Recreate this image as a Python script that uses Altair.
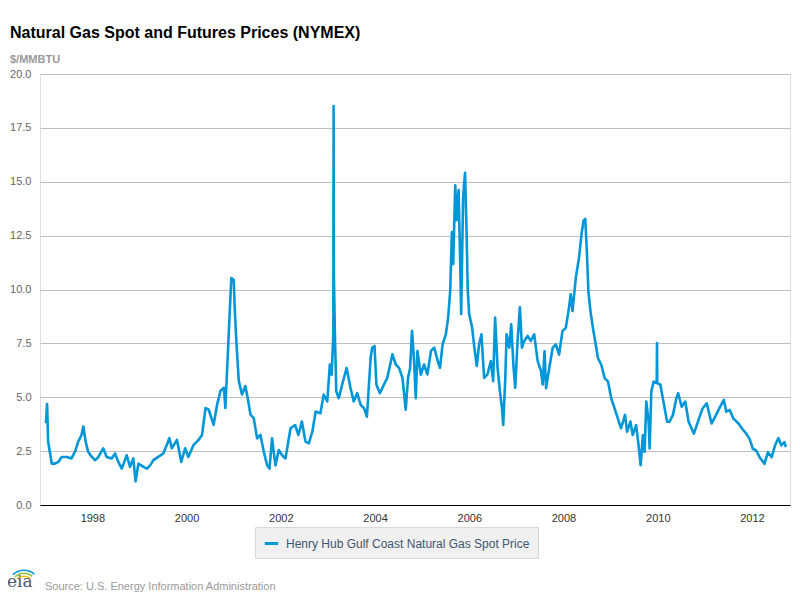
import altair as alt
import pandas as pd

# ---------------- data ----------------
dates = [
    "1997-01-06", "1997-01-15", "1997-01-23", "1997-02-05", "1997-02-20", "1997-03-17", "1997-04-12",
    "1997-05-08", "1997-06-17", "1997-07-23", "1997-08-19", "1997-09-13", "1997-10-09", "1997-10-23",
    "1997-11-10", "1997-11-29", "1997-12-28", "1998-01-21", "1998-02-17", "1998-03-26", "1998-04-22",
    "1998-05-30", "1998-06-26", "1998-07-21", "1998-08-17", "1998-09-24", "1998-10-20", "1998-11-14",
    "1998-12-02", "1998-12-24", "1999-02-01", "1999-02-28", "1999-03-25", "1999-04-19", "1999-05-27",
    "1999-07-05", "1999-08-21", "1999-09-09", "1999-10-19", "1999-11-21", "1999-12-21", "2000-01-15",
    "2000-02-24", "2000-04-03", "2000-04-30", "2000-05-27", "2000-06-21", "2000-07-29", "2000-08-25",
    "2000-09-20", "2000-10-16", "2000-10-28", "2000-11-10", "2000-11-22", "2000-12-05", "2000-12-13",
    "2001-01-01", "2001-01-08", "2001-01-22", "2001-02-09", "2001-03-06", "2001-04-01", "2001-04-19",
    "2001-05-11", "2001-06-05", "2001-07-01", "2001-07-27", "2001-08-22", "2001-09-17", "2001-10-05",
    "2001-10-25", "2001-11-20", "2001-12-16", "2002-01-11", "2002-02-06", "2002-03-17", "2002-04-22",
    "2002-05-17", "2002-06-13", "2002-07-11", "2002-08-06", "2002-09-02", "2002-09-28", "2002-11-04",
    "2002-11-29", "2002-12-27", "2003-01-16", "2003-01-30", "2003-02-12", "2003-02-14", "2003-02-16",
    "2003-02-24", "2003-03-07", "2003-03-26", "2003-04-21", "2003-05-26", "2003-06-25", "2003-07-20",
    "2003-08-16", "2003-09-12", "2003-10-08", "2003-10-30", "2003-11-07", "2003-11-28", "2003-12-10",
    "2003-12-28", "2004-01-12", "2004-02-08", "2004-03-10", "2004-04-05", "2004-05-15", "2004-06-10",
    "2004-07-05", "2004-08-01", "2004-08-26", "2004-09-13", "2004-09-29", "2004-10-14", "2004-10-30",
    "2004-11-12", "2004-11-25", "2004-12-21", "2005-01-15", "2005-02-10", "2005-03-10", "2005-04-04",
    "2005-05-01", "2005-05-19", "2005-06-08", "2005-07-03", "2005-07-21", "2005-08-06", "2005-08-19",
    "2005-08-29", "2005-09-14", "2005-09-24", "2005-10-10", "2005-10-22", "2005-10-30", "2005-11-14",
    "2005-11-29", "2005-12-10", "2005-12-20", "2005-12-31", "2006-01-23", "2006-02-09", "2006-02-28",
    "2006-03-18", "2006-04-05", "2006-04-26", "2006-05-22", "2006-06-17", "2006-07-05", "2006-07-20",
    "2006-08-08", "2006-08-26", "2006-09-11", "2006-09-21", "2006-10-07", "2006-10-17", "2006-11-07",
    "2006-11-22", "2006-12-10", "2006-12-23", "2007-01-10", "2007-01-28", "2007-02-13", "2007-03-03",
    "2007-03-29", "2007-04-23", "2007-05-19", "2007-06-15", "2007-07-11", "2007-07-24", "2007-08-07",
    "2007-08-19", "2007-09-13", "2007-10-09", "2007-11-03", "2007-11-28", "2007-12-24", "2008-01-19",
    "2008-02-13", "2008-02-26", "2008-03-11", "2008-04-06", "2008-05-01", "2008-05-20", "2008-06-05",
    "2008-06-18", "2008-06-30", "2008-07-12", "2008-07-28", "2008-08-16", "2008-09-03", "2008-09-24",
    "2008-10-20", "2008-11-15", "2008-12-11", "2009-01-05", "2009-01-31", "2009-02-25", "2009-03-22",
    "2009-04-22", "2009-05-08", "2009-06-03", "2009-06-21", "2009-07-17", "2009-08-05", "2009-08-21",
    "2009-09-08", "2009-09-21", "2009-10-04", "2009-10-22", "2009-10-30", "2009-11-12", "2009-11-30",
    "2009-12-21", "2009-12-24", "2009-12-26", "2009-12-28", "2010-01-21", "2010-02-09", "2010-03-14",
    "2010-04-01", "2010-04-28", "2010-05-25", "2010-06-08", "2010-07-05", "2010-08-02", "2010-08-28",
    "2010-10-08", "2010-11-17", "2010-12-14", "2011-01-16", "2011-02-03", "2011-02-22", "2011-03-28",
    "2011-04-23", "2011-05-28", "2011-06-16", "2011-07-13", "2011-08-09", "2011-09-19", "2011-10-16",
    "2011-11-18", "2011-12-13", "2012-01-08", "2012-02-03", "2012-02-29", "2012-04-07", "2012-05-04",
    "2012-06-02", "2012-06-28", "2012-07-24", "2012-08-15", "2012-09-09", "2012-09-20",
]
prices = [
    3.80, 4.69, 2.94, 2.47, 1.92, 1.92, 2.00,
    2.23, 2.23, 2.16, 2.47, 2.94, 3.25, 3.64,
    2.94, 2.47, 2.23, 2.08, 2.23, 2.63, 2.23,
    2.16, 2.39, 2.00, 1.69, 2.31, 1.77, 2.16,
    1.10, 1.92, 1.77, 1.69, 1.84, 2.08, 2.23,
    2.39, 3.10, 2.63, 3.02, 2.00, 2.63, 2.23,
    2.78, 3.02, 3.25, 4.50, 4.42, 3.72, 4.66,
    5.29, 5.44, 4.50, 6.22, 7.79, 9.51, 10.53,
    10.45, 9.20, 7.48, 5.76, 5.13, 5.52, 4.97,
    4.19, 4.03, 3.09, 3.25, 2.47, 1.84, 1.69,
    3.09, 1.84, 2.55, 2.31, 2.16, 3.56, 3.71,
    3.25, 3.87, 2.94, 2.86, 3.40, 4.34, 4.26,
    5.12, 4.81, 6.52, 6.05, 7.92, 18.51, 10.72,
    7.92, 5.27, 4.96, 5.58, 6.36, 5.43, 4.81,
    5.19, 4.65, 4.49, 4.10, 4.81, 6.83, 7.30,
    7.38, 5.58, 5.19, 5.58, 5.90, 6.99, 6.52,
    6.36, 5.90, 4.42, 5.90, 6.36, 8.08, 6.67,
    4.96, 7.14, 6.05, 6.52, 6.06, 7.15, 7.30,
    6.68, 6.37, 7.46, 7.92, 8.70, 9.95, 12.67,
    11.19, 14.84, 13.21, 14.61, 11.35, 8.86, 14.30,
    15.42, 12.90, 9.95, 8.86, 8.23, 7.30, 6.45,
    7.46, 7.92, 5.90, 6.06, 6.68, 5.75, 8.70,
    6.37, 5.28, 4.50, 3.72, 5.90, 7.92, 7.30,
    8.39, 6.37, 5.44, 7.61, 9.17, 7.30, 7.61,
    7.85, 7.61, 7.92, 6.68, 6.21, 5.59, 7.13,
    5.42, 6.36, 7.29, 7.45, 6.98, 8.07, 8.22,
    9.16, 9.78, 9.00, 10.56, 11.49, 12.58, 13.20,
    13.28, 11.80, 9.93, 9.00, 8.22, 7.60, 6.82,
    6.51, 5.89, 5.73, 4.96, 4.49, 4.02, 3.56,
    4.18, 3.40, 3.87, 3.25, 3.71, 2.78, 1.85,
    3.25, 2.47, 4.80, 3.87, 2.62, 5.27, 5.73,
    5.66, 5.66, 7.52, 5.66, 5.58, 4.96, 3.87,
    3.86, 4.17, 4.95, 5.19, 4.56, 4.80, 3.86,
    3.31, 4.02, 4.48, 4.72, 4.25, 3.78, 4.17,
    4.48, 4.88, 4.33, 4.41, 4.02, 3.78, 3.55,
    3.31, 3.08, 2.61, 2.53, 2.22, 1.91, 2.45,
    2.22, 2.77, 3.11, 2.77, 2.92, 2.69,
]
series_name = "Henry Hub Gulf Coast Natural Gas Spot Price"
x_tick_years = [1998, 2000, 2002, 2004, 2006, 2008, 2010, 2012]
y_ticks = [0, 2.5, 5, 7.5, 10, 12.5, 15, 17.5, 20]

title_text = "Natural Gas Spot and Futures Prices (NYMEX)"
unit_text = "$/MMBTU"
source_text = "Source: U.S. Energy Information Administration"

# logo arcs (yellow, green, blue) – decorative
logo_colors = ["#F6C21A", "#8CC63F", "#0096D7"]

FONT = "Liberation Sans"

df = pd.DataFrame({"date": dates, "price": prices, "series": series_name})

line = alt.Chart(df).mark_line(strokeWidth=2.6, strokeJoin="round").encode(
    x=alt.X(
        "date:T",
        scale=alt.Scale(domain=[alt.DateTime(year=1996, month=11, date=21),
                                alt.DateTime(year=2012, month=10, date=22)], nice=False),
        axis=alt.Axis(
            values=[alt.DateTime(year=y, month=1, date=1) for y in x_tick_years],
            format="%Y", title=None, grid=False, ticks=False,
            domainColor="#000000", domainWidth=1,
            labelColor="#333333", labelFontSize=11, labelFont=FONT, labelPadding=7,
        ),
    ),
    y=alt.Y(
        "price:Q",
        scale=alt.Scale(domain=[0, 20], nice=False, zero=True),
        axis=alt.Axis(
            values=y_ticks, format=".1f", title=None, grid=True,
            gridColor="#C0C0C0", gridWidth=1, domain=False, ticks=False,
            labelColor="#666666", labelFontSize=11, labelFont=FONT, labelPadding=9,
        ),
    ),
    color=alt.Color(
        "series:N",
        scale=alt.Scale(range=["#0096D7"]),
        legend=alt.Legend(
            title=None, orient="none", legendX=215, legendY=453,
            direction="horizontal", fillColor="#F0F0F0", strokeColor="#D8D8D8",
            padding=8, symbolType="stroke", symbolStrokeWidth=3, symbolSize=180,
            labelFontSize=12, labelColor="#3E576F", labelFont=FONT, labelOffset=6,
            labelLimit=0,
        ),
    ),
)

def label(text, x, y, size, color, weight="normal", font=FONT):
    return alt.Chart(pd.DataFrame({"t": [text]})).mark_text(
        align="left", baseline="alphabetic", fontSize=size, color=color,
        fontWeight=weight, font=font,
    ).encode(text="t:N", x=alt.value(x), y=alt.value(y))

title = label(title_text, -30, -36, 16, "#000000", "bold")
unit = label(unit_text, -30, -11, 11, "#999999", "bold")
source = label(source_text, 5, 516, 11, "#999999")
logo = label("eia", -33, 513, 17, "#4D5B6B", "normal", "DejaVu Serif")

arcs = alt.layer(*[
    alt.Chart(pd.DataFrame({"c": [c]})).mark_arc(
        theta=5.5, theta2=7.0, radius=9 + 3 * i, radius2=10.5 + 3 * i,
        color=c,
    ).encode(x=alt.value(-16), y=alt.value(512))
    for i, c in enumerate(logo_colors)
])

chart = alt.layer(line, title, unit, source, arcs, logo).properties(
    width=750, height=431,
    autosize=alt.AutoSizeParams(type="none"),
    padding={"left": 32, "top": 66, "right": 2, "bottom": 87},
).configure_view(stroke=None).configure(font=FONT)

chart.save("out.html", embed_options={"renderer": "svg", "actions": False})
